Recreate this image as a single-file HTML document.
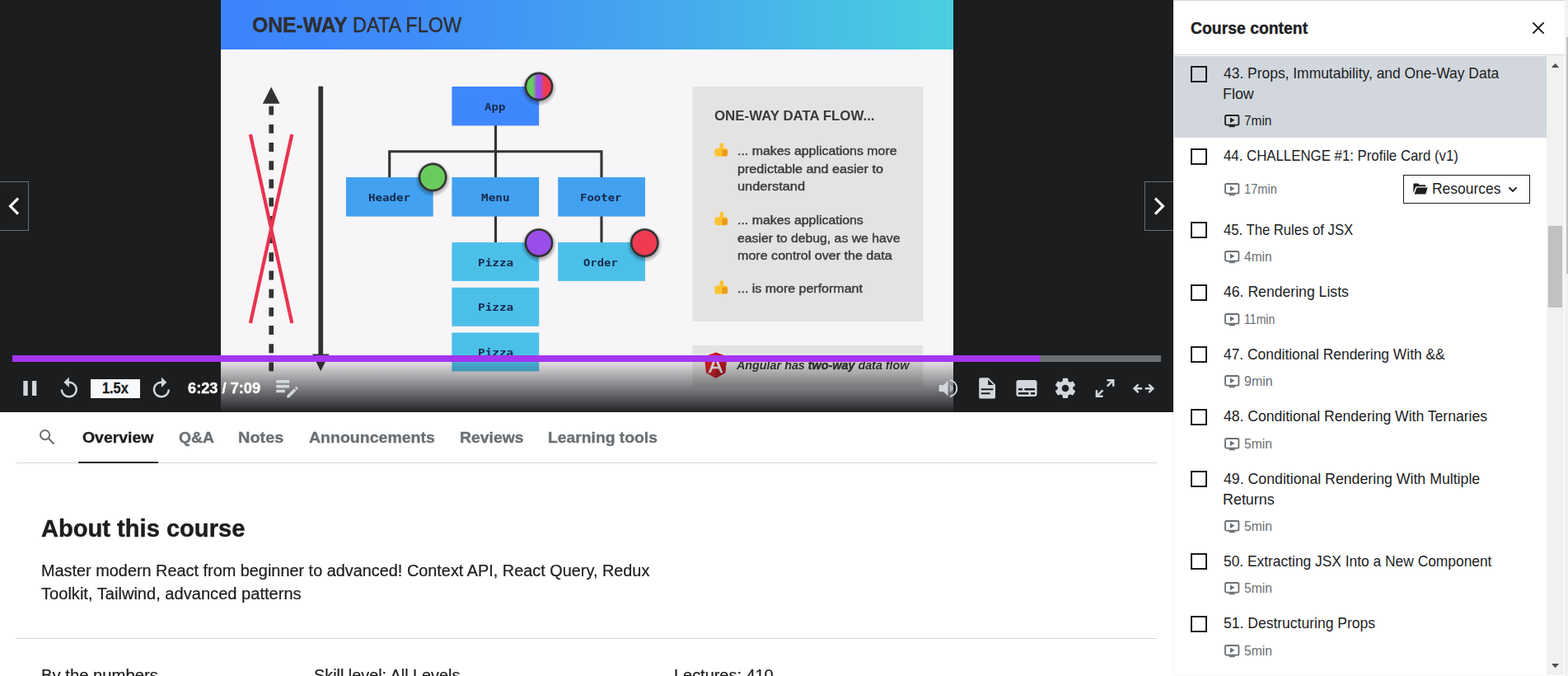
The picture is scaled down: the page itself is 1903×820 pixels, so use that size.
<!DOCTYPE html>
<html lang="en">
<head>
<meta charset="utf-8">
<title>Course player</title>
<style>
*{box-sizing:border-box;margin:0;padding:0}
html,body{width:1903px;height:820px;overflow:hidden;background:#fff}
body{position:relative;font-family:"Liberation Sans",sans-serif;color:#1c1d1f}
/* ---------- video ---------- */
#player{position:absolute;left:0;top:0;width:1424px;height:499.5px;background:#1c1d1f;overflow:hidden}
#slide{position:absolute;left:268px;top:0;width:889px;height:500px;background:#f7f5f7;overflow:hidden}
#slide svg{position:absolute;left:0;top:0}
#slide .bl{position:absolute;left:0;top:0;width:889px;height:500px;will-change:transform}
#slide text{font-family:"Liberation Sans",sans-serif;fill:#333}
.shade{position:absolute;left:268px;width:889px;top:432px;height:68px;background:linear-gradient(to bottom,rgba(26,27,31,0) 0%,rgba(26,27,31,.97) 100%)}
.bar{position:absolute;left:15px;top:431px;width:1394px;height:8px;background:#6a6f73}
.bar i{position:absolute;left:0;top:0;height:8px;width:1247px;background:#a435f0}
.nav{position:absolute;top:220px;width:35px;height:60px;border:1px solid #6a6f73;background:#1c1d1f}
.nav.prev{left:0;border-left:0}
.nav.next{left:1389px;border-right:0}
.speed{position:absolute;left:110px;top:460px;width:60px;height:23px;background:#f7f9fa}
.t{position:absolute;white-space:nowrap;transform-origin:0 0;margin:0}
.ico{position:absolute;overflow:visible;display:block}
/* ---------- tabs / body ---------- */
#main{position:absolute;left:0;top:500px;width:1424px;height:320px;will-change:transform}
#main>*{margin-top:-500px}
.tabs{position:absolute;left:20px;top:500px;width:1384px;height:62px;border-bottom:1px solid #d1d7dc}
.uline{position:absolute;left:95px;top:560px;width:97px;height:2px;background:#1c1d1f}
.hr2{position:absolute;left:20px;top:774px;width:1384px;height:1px;background:#d1d7dc}
/* ---------- sidebar ---------- */
#side{position:absolute;left:1424px;top:0;width:475px;height:820px;background:#fff;border-left:1px solid #f3f5f7;border-top:1px solid #d1d7dc;overflow:hidden}
#side:before{content:'';position:absolute;left:-1px;top:-1px;width:1px;height:1px;background:#f3f5f7}
#side:after{content:'';position:absolute;left:0;top:818px;width:453px;height:1px;background:#f7f9fa}
#side .head{position:absolute;left:0;top:0;width:474px;height:66px;border-bottom:1px solid #d1d7dc;background:#fff}
.curbg{position:absolute;left:0;width:452px;background:#d1d7dc}
.cb{position:absolute;left:20px;width:20px;height:20px;border:2px solid #1c1d1f}
.res{position:absolute;left:278px;top:211px;width:154px;height:35px;border:1px solid #1c1d1f;background:#fff}
.sb{position:absolute;left:1877px;top:67px;width:21.4px;height:752px;background:#f1f1f1}
.sb .th{position:absolute;left:2px;top:207px;width:17px;height:99px;background:#c1c1c1}
.psb{position:absolute;left:1899px;top:0;width:4px;height:820px;background:#f1f1f1}
.psb i{position:absolute;left:2px;top:45px;width:2px;height:287px;background:#c1c1c1}
</style>
</head>
<body>
<div id="side">
  <div class="curbg" style="top:67px;height:99px"></div>
<div class="cb" style="top:79px"></div>
<svg class="ico" style="left:60.6px;top:137.8px" width="19" height="16" viewBox="0 0 19 16"><rect x="1" y="1" width="16.4" height="11.6" rx="1.6" fill="none" stroke="#1c1d1f" stroke-width="1.8"/><path d="M7 3.6 L12.4 6.800 L7 10 Z" fill="#1c1d1f"/><rect x="5.6" y="13.2" width="7.2" height="2" fill="#1c1d1f"/></svg>
<div class="cb" style="top:179px"></div>
<svg class="ico" style="left:60.6px;top:220.8px" width="19" height="16" viewBox="0 0 19 16"><rect x="1" y="1" width="16.4" height="11.6" rx="1.6" fill="none" stroke="#6a6f73" stroke-width="1.8"/><path d="M7 3.6 L12.4 6.800 L7 10 Z" fill="#6a6f73"/><rect x="5.6" y="13.2" width="7.2" height="2" fill="#6a6f73"/></svg>
<div class="cb" style="top:268px"></div>
<svg class="ico" style="left:60.6px;top:302.8px" width="19" height="16" viewBox="0 0 19 16"><rect x="1" y="1" width="16.4" height="11.6" rx="1.6" fill="none" stroke="#6a6f73" stroke-width="1.8"/><path d="M7 3.6 L12.4 6.800 L7 10 Z" fill="#6a6f73"/><rect x="5.6" y="13.2" width="7.2" height="2" fill="#6a6f73"/></svg>
<div class="cb" style="top:344px"></div>
<svg class="ico" style="left:60.6px;top:378.8px" width="19" height="16" viewBox="0 0 19 16"><rect x="1" y="1" width="16.4" height="11.6" rx="1.6" fill="none" stroke="#6a6f73" stroke-width="1.8"/><path d="M7 3.6 L12.4 6.800 L7 10 Z" fill="#6a6f73"/><rect x="5.6" y="13.2" width="7.2" height="2" fill="#6a6f73"/></svg>
<div class="cb" style="top:419px"></div>
<svg class="ico" style="left:60.6px;top:453.8px" width="19" height="16" viewBox="0 0 19 16"><rect x="1" y="1" width="16.4" height="11.6" rx="1.6" fill="none" stroke="#6a6f73" stroke-width="1.8"/><path d="M7 3.6 L12.4 6.800 L7 10 Z" fill="#6a6f73"/><rect x="5.6" y="13.2" width="7.2" height="2" fill="#6a6f73"/></svg>
<div class="cb" style="top:495px"></div>
<svg class="ico" style="left:60.6px;top:529.8px" width="19" height="16" viewBox="0 0 19 16"><rect x="1" y="1" width="16.4" height="11.6" rx="1.6" fill="none" stroke="#6a6f73" stroke-width="1.8"/><path d="M7 3.6 L12.4 6.800 L7 10 Z" fill="#6a6f73"/><rect x="5.6" y="13.2" width="7.2" height="2" fill="#6a6f73"/></svg>
<div class="cb" style="top:570px"></div>
<svg class="ico" style="left:60.6px;top:629.8px" width="19" height="16" viewBox="0 0 19 16"><rect x="1" y="1" width="16.4" height="11.6" rx="1.6" fill="none" stroke="#6a6f73" stroke-width="1.8"/><path d="M7 3.6 L12.4 6.800 L7 10 Z" fill="#6a6f73"/><rect x="5.6" y="13.2" width="7.2" height="2" fill="#6a6f73"/></svg>
<div class="cb" style="top:670px"></div>
<svg class="ico" style="left:60.6px;top:704.8px" width="19" height="16" viewBox="0 0 19 16"><rect x="1" y="1" width="16.4" height="11.6" rx="1.6" fill="none" stroke="#6a6f73" stroke-width="1.8"/><path d="M7 3.6 L12.4 6.800 L7 10 Z" fill="#6a6f73"/><rect x="5.6" y="13.2" width="7.2" height="2" fill="#6a6f73"/></svg>
<div class="cb" style="top:746px"></div>
<svg class="ico" style="left:60.6px;top:780.8px" width="19" height="16" viewBox="0 0 19 16"><rect x="1" y="1" width="16.4" height="11.6" rx="1.6" fill="none" stroke="#6a6f73" stroke-width="1.8"/><path d="M7 3.6 L12.4 6.800 L7 10 Z" fill="#6a6f73"/><rect x="5.6" y="13.2" width="7.2" height="2" fill="#6a6f73"/></svg>
<div class="res"><svg class="ico" style="left:11px;top:9.200px" width="18" height="14" viewBox="0 0 19 15" preserveAspectRatio="none"><path d="M0.4 13.400 V2 C0.4 1.2 1 .6 1.800 .6 H6.400 L8.200 2.400 H14.600 C15.400 2.400 16 3 16 3.800 V4.600 H4.600 C3.800 4.600 3.200 5 3 5.800 Z M4.800 5.800 H18.600 L16.400 13.400 C16.200 14 15.800 14.400 15.200 14.400 H1.600 Z" fill="#1c1d1f"/></svg><svg class="ico" style="left:126px;top:13px" width="12" height="8" viewBox="0 0 12 8"><path d="M1.4 1.400 L6 6 L10.600 1.400" fill="none" stroke="#1c1d1f" stroke-width="1.9"/></svg></div>
  <div class="head">
    <svg class="ico" style="left:432.5px;top:23.5px" width="18" height="18" viewBox="0 0 18 18"><path d="M2.400 2.400 L15.600 15.600 M15.600 2.400 L2.400 15.600" stroke="#1c1d1f" stroke-width="2" fill="none"/></svg>
  </div>
</div>
<div class="t" id="cc" style="left:1445px;top:21.5px;font-size:19.4px;line-height:25px;font-weight:700;color:#1c1d1f;transform:scaleX(0.9994);-webkit-text-stroke:.35px;">Course content</div>
<div class="t" id="res" style="left:1738px;top:216.5px;font-size:18.6px;line-height:24px;font-weight:400;color:#1c1d1f;transform:scaleX(0.9384);">Resources</div>
<div class="t" id="t0_0" style="left:1485px;top:76.5px;font-size:18.6px;line-height:24px;font-weight:400;color:#1c1d1f;transform:scaleX(0.9373);">43. Props, Immutability, and One-Way Data</div>
<div class="t" id="t0_1" style="left:1484px;top:101.5px;font-size:18.6px;line-height:24px;font-weight:400;color:#1c1d1f;transform:scaleX(0.9620);">Flow</div>
<div class="t" id="d0" style="left:1509.7px;top:136.5px;font-size:15.6px;line-height:20px;font-weight:400;color:#1c1d1f;transform:scaleX(0.9887);">7min</div>
<div class="t" id="t1_0" style="left:1485px;top:176.5px;font-size:18.6px;line-height:24px;font-weight:400;color:#1c1d1f;transform:scaleX(0.9040);">44. CHALLENGE #1: Profile Card (v1)</div>
<div class="t" id="d1" style="left:1509.7px;top:219.5px;font-size:15.6px;line-height:20px;font-weight:400;color:#6a6f73;transform:scaleX(0.9396);">17min</div>
<div class="t" id="t2_0" style="left:1485px;top:266.5px;font-size:18.6px;line-height:24px;font-weight:400;color:#1c1d1f;transform:scaleX(0.8960);">45. The Rules of JSX</div>
<div class="t" id="d2" style="left:1509.7px;top:301.5px;font-size:15.6px;line-height:20px;font-weight:400;color:#6a6f73;transform:scaleX(0.9964);">4min</div>
<div class="t" id="t3_0" style="left:1485px;top:341.5px;font-size:18.6px;line-height:24px;font-weight:400;color:#1c1d1f;transform:scaleX(0.9478);">46. Rendering Lists</div>
<div class="t" id="d3" style="left:1509.7px;top:377.5px;font-size:15.6px;line-height:20px;font-weight:400;color:#6a6f73;transform:scaleX(0.9038);">11min</div>
<div class="t" id="t4_0" style="left:1485px;top:417.5px;font-size:18.6px;line-height:24px;font-weight:400;color:#1c1d1f;transform:scaleX(0.9350);">47. Conditional Rendering With &amp;&amp;</div>
<div class="t" id="d4" style="left:1509.7px;top:452.5px;font-size:15.6px;line-height:20px;font-weight:400;color:#6a6f73;transform:scaleX(1.0247);">9min</div>
<div class="t" id="t5_0" style="left:1485px;top:492.5px;font-size:18.6px;line-height:24px;font-weight:400;color:#1c1d1f;transform:scaleX(0.9450);">48. Conditional Rendering With Ternaries</div>
<div class="t" id="d5" style="left:1509.7px;top:528.5px;font-size:15.6px;line-height:20px;font-weight:400;color:#6a6f73;transform:scaleX(1.0091);">5min</div>
<div class="t" id="t6_0" style="left:1485px;top:568.5px;font-size:18.6px;line-height:24px;font-weight:400;color:#1c1d1f;transform:scaleX(0.9528);">49. Conditional Rendering With Multiple</div>
<div class="t" id="t6_1" style="left:1484px;top:593.5px;font-size:18.6px;line-height:24px;font-weight:400;color:#1c1d1f;transform:scaleX(0.9624);">Returns</div>
<div class="t" id="d6" style="left:1509.7px;top:628.5px;font-size:15.6px;line-height:20px;font-weight:400;color:#6a6f73;transform:scaleX(1.0091);">5min</div>
<div class="t" id="t7_0" style="left:1485px;top:668.5px;font-size:18.6px;line-height:24px;font-weight:400;color:#1c1d1f;transform:scaleX(0.9344);">50. Extracting JSX Into a New Component</div>
<div class="t" id="d7" style="left:1509.7px;top:703.5px;font-size:15.6px;line-height:20px;font-weight:400;color:#6a6f73;transform:scaleX(1.0091);">5min</div>
<div class="t" id="t8_0" style="left:1485px;top:743.5px;font-size:18.6px;line-height:24px;font-weight:400;color:#1c1d1f;transform:scaleX(0.9425);">51. Destructuring Props</div>
<div class="t" id="d8" style="left:1509.7px;top:779.5px;font-size:15.6px;line-height:20px;font-weight:400;color:#6a6f73;transform:scaleX(1.0091);">5min</div>
<div class="sb"><div class="th"></div><svg class="ico" style="left:0;top:0" width="21" height="752" viewBox="0 0 21 752"><path d="M5.900 15 L15.200 15 L10.550 9.800 Z M5.900 738 L15.200 738 L10.550 743.200 Z" fill="#505050"/></svg></div>
<div class="psb"><i></i></div>
<div id="player">
  <div class="nav prev"></div>
  <div class="nav next"></div>
  <div class="speed"></div>
  <div class="t" id="spd" style="left:124.42px;top:458.5px;font-size:18.4px;line-height:24px;font-weight:700;color:#1c1d1f;transform:scaleX(0.8857);-webkit-text-stroke:.35px;">1.5x</div>
  <div id="slide"><div class="bl"><svg width="889" height="500" viewBox="0 0 889 500">
<defs><linearGradient id="hd" x1="0" y1="0" x2="1" y2="0"><stop offset="0" stop-color="#3d83fc"/><stop offset=".25" stop-color="#3f8bf9"/><stop offset=".6" stop-color="#45a8ee"/><stop offset="1" stop-color="#4bcfe0"/></linearGradient><linearGradient id="tri" x1="0" y1="0" x2="1" y2="0"><stop offset=".28" stop-color="#68cc5c"/><stop offset=".42" stop-color="#9a4fe8"/><stop offset=".55" stop-color="#9a4fe8"/><stop offset=".7" stop-color="#f03a52"/></linearGradient><radialGradient id="shg"><stop offset=".72" stop-color="#000" stop-opacity=".32"/><stop offset="1" stop-color="#000" stop-opacity="0"/></radialGradient></defs>
<rect x="0" y="0" width="889" height="500" fill="#f7f5f7"/>
<rect x="0" y="0" width="889" height="60" fill="url(#hd)"/>
<polygon points="61.2,105.5 50.8,125.8 71.6,125.8" fill="#333"/>
<line x1="61.2" y1="128.7" x2="61.2" y2="450.2" stroke="#333" stroke-width="5.6" stroke-dasharray="10.9 11.3"/>
<g stroke="#e8344e" stroke-width="4.2" stroke-linecap="butt"><line x1="35.9" y1="163" x2="86.3" y2="392"/><line x1="86.3" y1="163" x2="35.9" y2="392"/></g>
<rect x="118.4" y="104.7" width="5.7" height="326" fill="#333"/>
<polygon points="111,429.6 131.5,429.6 121.2,450.2" fill="#333"/>
<g fill="none" stroke="#333" stroke-width="3.1">
<path d="M333.5 152 V215 M204.7 215 V183.8 H462 V215 M333.5 262 V295 M462 262 V295"/>
</g>
<rect x="280.4" y="105" width="105.8" height="47.4" fill="#3f87fd"/>
<rect x="152" y="215" width="105.7" height="47.6" fill="#42a1f1"/>
<rect x="280.4" y="215" width="105.8" height="47.6" fill="#42a1f1"/>
<rect x="409.2" y="215" width="105.8" height="47.6" fill="#42a1f1"/>
<rect x="280.4" y="294" width="105.8" height="46.9" fill="#4cbfe9"/>
<rect x="409.2" y="294" width="105.8" height="46.9" fill="#4cbfe9"/>
<rect x="280.4" y="348.8" width="105.8" height="47" fill="#4cbfe9"/>
<rect x="280.4" y="403.5" width="105.8" height="46.9" fill="#4cbfe9"/>
<circle cx="386" cy="107.2" r="21.6" fill="url(#shg)"/><circle cx="386" cy="105" r="16.1" fill="url(#tri)" stroke="#333" stroke-width="2.6"/>
<circle cx="257.2" cy="217.2" r="21.6" fill="url(#shg)"/><circle cx="257.2" cy="215" r="16.1" fill="#6acb5d" stroke="#333" stroke-width="2.6"/>
<circle cx="386" cy="296.8" r="21.6" fill="url(#shg)"/><circle cx="386" cy="294.6" r="16.1" fill="#9a4ee9" stroke="#333" stroke-width="2.6"/>
<circle cx="514.3" cy="296.8" r="21.6" fill="url(#shg)"/><circle cx="514.3" cy="294.6" r="16.1" fill="#f03a52" stroke="#333" stroke-width="2.6"/>
<rect x="572.3" y="105" width="280" height="285" fill="#e4e3e2"/>
<rect x="572.3" y="418.8" width="280" height="50.4" fill="#e4e3e2"/>
<g transform="translate(598.6 173.2)"><rect x="6.900" y="0" width="4.600" height="9" rx="2.200" fill="#fbc432" transform="rotate(8 9 4)"/><rect x=".8" y="6.500" width="15.700" height="10" rx="3.200" fill="#fbc432"/><rect x="9.400" y="7.800" width="7.200" height="8.700" rx="2.600" fill="#f1a623"/><path d="M10.400 10.100 H15.800 M10.400 12.200 H15.800 M10.400 14.300 H15.400" stroke="#d98c12" stroke-width=".8" fill="none"/></g>
<g transform="translate(598.6 256.7)"><rect x="6.900" y="0" width="4.600" height="9" rx="2.200" fill="#fbc432" transform="rotate(8 9 4)"/><rect x=".8" y="6.500" width="15.700" height="10" rx="3.200" fill="#fbc432"/><rect x="9.400" y="7.800" width="7.200" height="8.700" rx="2.600" fill="#f1a623"/><path d="M10.400 10.100 H15.800 M10.400 12.200 H15.800 M10.400 14.300 H15.400" stroke="#d98c12" stroke-width=".8" fill="none"/></g>
<g transform="translate(598.6 340.1)"><rect x="6.900" y="0" width="4.600" height="9" rx="2.200" fill="#fbc432" transform="rotate(8 9 4)"/><rect x=".8" y="6.500" width="15.700" height="10" rx="3.200" fill="#fbc432"/><rect x="9.400" y="7.800" width="7.200" height="8.700" rx="2.600" fill="#f1a623"/><path d="M10.400 10.100 H15.800 M10.400 12.200 H15.800 M10.400 14.300 H15.400" stroke="#d98c12" stroke-width=".8" fill="none"/></g>
<g transform="translate(586.9 427.5)"><polygon points="13.7,0 27.400,4.900 25.300,24.800 13.700,31.300 2.100,24.800 0,4.900" fill="#dd1b24"/><polygon points="13.700,0 27.400,4.900 25.300,24.800 13.700,31.300" fill="#b9161f"/><text x="13.700" y="24.200" text-anchor="middle" font-family="Liberation Sans, sans-serif" font-weight="400" font-size="25.500" style="fill:#f4f4f4;stroke:#f4f4f4;stroke-width:.5px">A</text></g>
</svg>
<div class="t" id="sl_t1" style="left:38.39px;top:13.5px;font-size:25.4px;line-height:33px;font-weight:700;color:#2e2e33;transform:scaleX(0.9726);-webkit-text-stroke:.4px;">ONE-WAY</div>
<div class="t" id="sl_t2" style="left:160.13px;top:13.5px;font-size:25.4px;line-height:33px;font-weight:400;color:#2e2e33;transform:scaleX(0.9239);-webkit-text-stroke:.4px;">DATA FLOW</div>
<div class="t" id="sl_app" style="left:320.4px;top:121.5px;font-size:12.6px;line-height:16px;font-weight:700;color:#15294a;transform:scaleX(1.1165);font-family:'DejaVu Sans Mono','Liberation Mono',monospace;">App</div>
<div class="t" id="sl_hdr" style="left:178.75px;top:231.5px;font-size:12.6px;line-height:16px;font-weight:700;color:#15294a;transform:scaleX(1.1237);font-family:'DejaVu Sans Mono','Liberation Mono',monospace;">Header</div>
<div class="t" id="sl_menu" style="left:315.69px;top:231.5px;font-size:12.6px;line-height:16px;font-weight:700;color:#15294a;transform:scaleX(1.1408);font-family:'DejaVu Sans Mono','Liberation Mono',monospace;">Menu</div>
<div class="t" id="sl_ftr" style="left:436.04px;top:231.5px;font-size:12.6px;line-height:16px;font-weight:700;color:#15294a;transform:scaleX(1.1104);font-family:'DejaVu Sans Mono','Liberation Mono',monospace;">Footer</div>
<div class="t" id="sl_pz1" style="left:311.66px;top:310.5px;font-size:12.6px;line-height:16px;font-weight:700;color:#15294a;transform:scaleX(1.1411);font-family:'DejaVu Sans Mono','Liberation Mono',monospace;">Pizza</div>
<div class="t" id="sl_ord" style="left:440.23px;top:310.5px;font-size:12.6px;line-height:16px;font-weight:700;color:#15294a;transform:scaleX(1.1023);font-family:'DejaVu Sans Mono','Liberation Mono',monospace;">Order</div>
<div class="t" id="sl_pz2" style="left:311.66px;top:364.5px;font-size:12.6px;line-height:16px;font-weight:700;color:#15294a;transform:scaleX(1.1411);font-family:'DejaVu Sans Mono','Liberation Mono',monospace;">Pizza</div>
<div class="t" id="sl_pz3" style="left:311.66px;top:419.5px;font-size:12.6px;line-height:16px;font-weight:700;color:#15294a;transform:scaleX(1.1411);font-family:'DejaVu Sans Mono','Liberation Mono',monospace;">Pizza</div>
<div class="t" id="sl_ph" style="left:598.94px;top:129.5px;font-size:17px;line-height:22px;font-weight:700;color:#3b3b3b;transform:scaleX(0.9918);">ONE-WAY DATA FLOW...</div>
<div class="t" id="sl_l1" style="left:626.58px;top:172.5px;font-size:15.2px;line-height:20px;font-weight:400;color:#3c3c3c;transform:scaleX(1.0468);-webkit-text-stroke:.45px;">... makes applications more</div>
<div class="t" id="sl_l2" style="left:626.88px;top:194.5px;font-size:15.2px;line-height:20px;font-weight:400;color:#3c3c3c;transform:scaleX(1.0635);-webkit-text-stroke:.45px;">predictable and easier to</div>
<div class="t" id="sl_l3" style="left:627.02px;top:215.5px;font-size:15.2px;line-height:20px;font-weight:400;color:#3c3c3c;transform:scaleX(1.0803);-webkit-text-stroke:.45px;">understand</div>
<div class="t" id="sl_l4" style="left:627.1px;top:256.5px;font-size:15.2px;line-height:20px;font-weight:400;color:#3c3c3c;transform:scaleX(1.0463);-webkit-text-stroke:.45px;">... makes applications</div>
<div class="t" id="sl_l5" style="left:627.36px;top:278.5px;font-size:15.2px;line-height:20px;font-weight:400;color:#3c3c3c;transform:scaleX(1.0395);-webkit-text-stroke:.45px;">easier to debug, as we have</div>
<div class="t" id="sl_l6" style="left:627.16px;top:299.5px;font-size:15.2px;line-height:20px;font-weight:400;color:#3c3c3c;transform:scaleX(1.0585);-webkit-text-stroke:.45px;">more control over the data</div>
<div class="t" id="sl_l7" style="left:626.74px;top:339.5px;font-size:15.2px;line-height:20px;font-weight:400;color:#3c3c3c;transform:scaleX(1.0522);-webkit-text-stroke:.45px;">... is more performant</div>
<div class="t" id="sl_ang" style="left:625.6px;top:433.5px;font-size:14.4px;line-height:19px;font-weight:700;color:#333;transform:scaleX(0.9962);font-style:italic;">Angular has <b style="-webkit-text-stroke:.5px">two-way</b> data flow</div></div></div>
  <div class="shade"></div>
  <div class="bar"><i></i></div>
  <div class="t" id="time" style="left:228.18px;top:458.5px;font-size:18.4px;line-height:24px;font-weight:700;color:#fff;transform:scaleX(0.9908);-webkit-text-stroke:.35px;">6:23 / 7:09</div>
  <svg class="ico" style="left:0;top:0" width="1424" height="500" viewBox="0 0 1424 500">
<path d="M28.300 461.900 h5.400 v18.100 h-5.400 z M38.900 461.900 h5.400 v18.100 h-5.400 z" fill="#d1d7dc"/>
<path transform="translate(73.6 457.6) scale(1.2750 1.2400) translate(-4 -1)" d="M12 5V1L7 6l5 5V7c3.31 0 6 2.69 6 6s-2.69 6-6 6-6-2.69-6-6H4c0 4.42 3.58 8 8 8s8-3.58 8-8-3.58-8-8-8z" fill="#d1d7dc"/>
<path transform="translate(185.7 457.6) scale(1.2750 1.2400) translate(-4 -1)" d="M12 5V1l5 5-5 5V7c-3.31 0-6 2.69-6 6s2.690 6 6 6 6-2.69 6-6h2c0 4.42-3.58 8-8 8s-8-3.58-8-8 3.58-8 8-8z" fill="#d1d7dc"/>
<g fill="#d1d7dc"><rect x="335.200" y="461" width="15.900" height="3.600"/><rect x="335.200" y="466.900" width="15.900" height="3.600"/><rect x="335.200" y="472.700" width="10.700" height="3.500"/><path d="M348.500 479.600 L356.900 471.200 L359.500 473.800 L351.100 482.200 L348.200 482.600 Z"/><path d="M357.800 470.300 L358.800 469.300 C359.200 468.900 359.800 468.900 360.200 469.300 L361.400 470.500 C361.800 470.900 361.800 471.500 361.400 471.900 L360.400 472.900 Z"/></g>
<path d="M1139.600 466.900 H1145.100 L1150.600 461.600 V480.400 L1145.100 474.900 H1139.600 Z" fill="#d1d7dc"/>
<path d="M1152.600 466.300 C1155.400 467.300 1157 469 1157 471 C1157 473 1155.400 474.700 1152.600 475.700 Z" fill="#aeb3b9"/>
<path d="M1152.900 461 C1157.900 462.100 1161.300 466.100 1161.300 471 C1161.300 475.900 1157.900 479.900 1152.900 481" fill="none" stroke="#d1d7dc" stroke-width="2"/>
<path fill-rule="evenodd" d="M1190.300 458.200 H1199.600 L1208 466.700 V481.400 C1208 482.600 1207.100 483.500 1205.900 483.500 H1190.300 C1189.100 483.500 1188.200 482.600 1188.200 481.400 V460.300 C1188.200 459.100 1189.100 458.200 1190.300 458.200 Z M1199.200 460.400 V467.100 H1205.800 Z M1190.700 471.300 H1205.400 V473.300 H1190.700 Z M1190.700 476.200 H1201.700 V478.300 H1190.700 Z" fill="#d1d7dc"/>
<path transform="translate(1233.4 461) scale(1.2550 1.2500) translate(-2 -4)" d="M20 4H4c-1.1 0-2 .9-2 2v12c0 1.1.9 2 2 2h16c1.1 0 2-.9 2-2V6c0-1.1-.9-2-2-2zM4 12h4v2H4v-2zm10 6H4v-2h10v2zm6 0h-4v-2h4v2zm0-4H10v-2h10v2z" fill="#d1d7dc"/>
<path transform="translate(1280.9 458.7) scale(1.2384 1.2200) translate(-2.27 -2)" d="M19.43 12.98c.04-.32.07-.64.07-.98s-.03-.66-.07-.98l2.11-1.650c.19-.15.24-.42.12-.64l-2-3.460c-.12-.22-.39-.3-.61-.22l-2.490 1c-.52-.4-1.080-.73-1.690-.98l-.38-2.650C14.46 2.18 14.25 2 14 2h-4c-.25 0-.46.18-.49.42l-.38 2.650c-.61.25-1.170.59-1.690.98l-2.490-1c-.23-.09-.49 0-.61.22l-2 3.460c-.13.22-.07.49.12.64l2.110 1.650c-.04.32-.07.65-.07.98s.03.66.07.98l-2.110 1.650c-.19.15-.24.42-.12.64l2 3.460c.12.22.39.3.61.22l2.490-1c.52.4 1.080.73 1.690.98l.38 2.650c.03.24.24.42.49.42h4c.25 0 .46-.18.49-.42l.38-2.650c.61-.25 1.170-.59 1.690-.98l2.490 1c.23.09.49 0 .61-.22l2-3.460c.12-.22.07-.49-.12-.64l-2.110-1.650zM12 15.500c-1.930 0-3.500-1.570-3.500-3.500s1.570-3.500 3.500-3.500 3.500 1.570 3.500 3.500-1.570 3.500-3.500 3.500z" fill="#d1d7dc"/>
<g fill="none" stroke="#d1d7dc" stroke-width="2.500" stroke-linecap="butt" stroke-linejoin="miter"><path d="M1343.600 461.200 H1351.200 V468.800 M1350.600 461.800 L1343.700 468.700"/><path d="M1338.500 480.800 H1330.900 V473.200 M1331.500 480.200 L1338.400 473.300"/></g>
<g fill="none" stroke="#d1d7dc" stroke-width="2.500" stroke-linecap="butt" stroke-linejoin="miter"><path d="M1381.600 466.300 L1376.600 471.200 L1381.600 476.100 M1377 471.200 H1386.200"/><path d="M1394.300 466.300 L1399.300 471.200 L1394.300 476.100 M1398.900 471.200 H1389.700"/></g>
<path d="M22 240.600 L12.500 250.100 L22 259.600" fill="none" stroke="#fff" stroke-width="3.200"/>
<path d="M1402 240.600 L1411.500 250.100 L1402 259.600" fill="none" stroke="#fff" stroke-width="3.200"/>
</svg>
</div>
<div id="main">
<svg class="ico" style="left:47.2px;top:520.4px" width="20" height="19" viewBox="0 0 20 19"><circle cx="7.6" cy="7.6" r="5.6" fill="none" stroke="#6a6f73" stroke-width="2"/><path d="M11.800 11.800 L18.400 18.400" stroke="#6a6f73" stroke-width="2.200" fill="none"/></svg>
<div class="tabs"></div>
<div class="uline"></div>
<div class="hr2"></div>
<div class="t" id="tab1" style="left:100px;top:518px;font-size:19.2px;line-height:25px;font-weight:700;color:#1c1d1f;transform:scaleX(1.0130);-webkit-text-stroke:.35px;">Overview</div>
<div class="t" id="tab2" style="left:217px;top:518px;font-size:19.2px;line-height:25px;font-weight:700;color:#6a6f73;transform:scaleX(1.0057);-webkit-text-stroke:.35px;">Q&amp;A</div>
<div class="t" id="tab3" style="left:289px;top:518px;font-size:19.2px;line-height:25px;font-weight:700;color:#6a6f73;transform:scaleX(1.0381);-webkit-text-stroke:.35px;">Notes</div>
<div class="t" id="tab4" style="left:375px;top:518px;font-size:19.2px;line-height:25px;font-weight:700;color:#6a6f73;transform:scaleX(1.0169);-webkit-text-stroke:.35px;">Announcements</div>
<div class="t" id="tab5" style="left:558px;top:518px;font-size:19.2px;line-height:25px;font-weight:700;color:#6a6f73;transform:scaleX(1.0111);-webkit-text-stroke:.35px;">Reviews</div>
<div class="t" id="tab6" style="left:665px;top:518px;font-size:19.2px;line-height:25px;font-weight:700;color:#6a6f73;transform:scaleX(1.0056);-webkit-text-stroke:.35px;">Learning tools</div>
<div class="t" id="h2" style="left:50px;top:621.5px;font-size:29.6px;line-height:38px;font-weight:700;color:#1c1d1f;transform:scaleX(0.9831);-webkit-text-stroke:.45px;">About this course</div>
<div class="t" id="p1" style="left:50px;top:679px;font-size:20px;line-height:26px;font-weight:400;color:#1c1d1f;transform:scaleX(0.9933);-webkit-text-stroke:.22px;">Master modern React from beginner to advanced! Context API, React Query, Redux</div>
<div class="t" id="p2" style="left:50px;top:707px;font-size:20px;line-height:26px;font-weight:400;color:#1c1d1f;transform:scaleX(1.0044);-webkit-text-stroke:.22px;">Toolkit, Tailwind, advanced patterns</div>
<div class="t" id="s1" style="left:50px;top:806px;font-size:20px;line-height:26px;font-weight:400;color:#1c1d1f;transform:scaleX(1.0130);-webkit-text-stroke:.22px;">By the numbers</div>
<div class="t" id="s2" style="left:381px;top:806px;font-size:20px;line-height:26px;font-weight:400;color:#1c1d1f;transform:scaleX(0.9911);-webkit-text-stroke:.22px;">Skill level: All Levels</div>
<div class="t" id="s3" style="left:818.1px;top:806px;font-size:20px;line-height:26px;font-weight:400;color:#1c1d1f;transform:scaleX(0.9959);-webkit-text-stroke:.22px;">Lectures: 410</div>
</div>
</body>
</html>
